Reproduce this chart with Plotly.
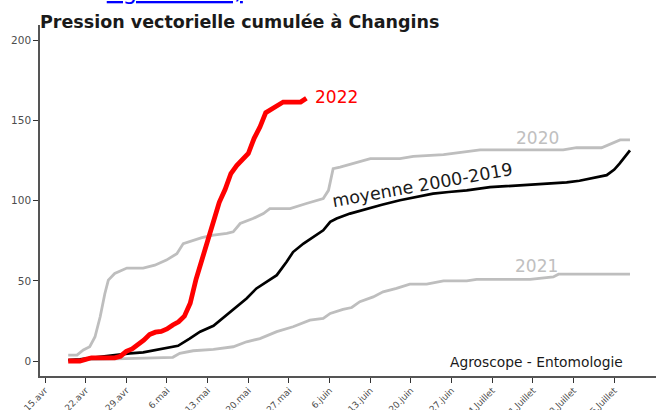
import plotly.graph_objects as go

# ---- data (days since 15 April) ----
tick_days = [0, 7, 14, 21, 28, 35, 42, 49, 56, 63, 70, 77, 84, 91, 98]
tick_labels = ["15.avr", "22.avr", "29.avr", "6.mai", "13.mai", "20.mai", "27.mai",
               "6.juin", "13.juin", "20.juin", "27.juin", "4.Juillet", "11.Juillet",
               "18.Juillet", "25.Juillet"]

days_2022 = [4, 5, 6, 7, 8, 9, 10, 11, 12, 13, 14, 15, 16, 17, 18, 19, 20, 21, 22, 23, 24,
             25, 26, 27, 28, 29, 30, 31, 32, 33, 34, 35, 36, 37, 38, 39, 40, 41, 42, 43, 44, 45]
vals_2022 = [0, 0, 0, 1, 2, 2, 2, 2, 2, 3, 6, 7.5, 10, 13, 16.5, 18, 18.5, 20, 22.5, 24.5, 28,
             36, 51, 63, 76, 89, 99, 107, 117, 122, 125.5, 129.5, 139, 146, 155, 157.5, 160,
             161.6, 161.6, 161.6, 161.6, 164]

days_mean = [4, 6, 8, 9.5, 12, 14.6, 16.9, 19.8, 22.9, 24.9, 26.7, 29, 31.3, 33, 34.7, 36.4,
             38.2, 39.9, 41.6, 42.7, 44.5, 46.2, 47.9, 49.1, 50.2, 52.5, 55.4, 58, 61.1, 63.5,
             66.8, 69.5, 72.6, 76.6, 80, 84, 87, 89.8, 92, 93.8, 95.5, 96.7, 98, 98.9, 100.7]
vals_mean = [0.5, 1, 2, 2.7, 3.7, 4.8, 5.4, 7.5, 9.5, 14, 18.3, 22, 28.7, 33.8, 39, 45.3,
             49.4, 53.6, 61.9, 68, 73.3, 77.4, 81.6, 86.8, 88.9, 92, 95.1, 97.5, 100.3, 102,
             104.5, 105.5, 106.5, 108.5, 109.3, 110.3, 111, 111.5, 112.5, 113.8, 115, 116,
             119.5, 123.2, 131.5]

days_2020 = [4, 5.5, 6.6, 7.7, 8.6, 9.5, 10.3, 10.9, 12, 14.1, 16.9, 18.9, 20.9, 22.7, 23.8,
             25.5, 27, 29, 31.3, 32.4, 33.6, 35.8, 37.6, 38.7, 42.2, 45, 47.9, 48.8, 49.6,
             50.8, 52.5, 56, 61.1, 63.4, 68.6, 74.9, 81.2, 89.2, 91.5, 95.8, 99, 100.7]
vals_2020 = [3.7, 3.7, 6.9, 8.9, 15, 27.6, 42, 50.5, 54.6, 58, 58, 59.8, 63, 67, 73.3,
             75.4, 77, 78.5, 79.6, 80.6, 85.8, 88.9, 92, 95.1, 95.1, 98.3, 101.4, 106.5, 120,
             121, 122.7, 126.3, 126.3, 127.7, 128.8, 131.8, 131.8, 131.8, 133.1, 133.1, 138, 138]

days_2021 = [4, 16.9, 22, 23.2, 25.5, 29, 32.4, 34.7, 37, 39.9, 42.7, 45.6, 47.9, 49.1, 51.3,
             52.8, 54.2, 56.5, 58.2, 60.5, 62.8, 65.7, 68.6, 72.6, 74.3, 83.5, 87.5, 88.4, 100.7]
vals_2021 = [0.6, 1.7, 2.3, 4.8, 6.4, 7.3, 8.9, 12, 14, 18.3, 21.4, 25.5, 26.6, 29.7, 32.2,
             33.4, 37, 40, 43.2, 45.3, 48, 48, 50, 50, 51, 51, 52.5, 54.2, 54.2]

GREY = "#bebebe"
FONT = "DejaVu Sans"

fig = go.Figure()
fig.add_trace(go.Scatter(x=days_2021, y=vals_2021, mode="lines",
                         line=dict(color=GREY, width=2.8), name="2021"))
fig.add_trace(go.Scatter(x=days_2020, y=vals_2020, mode="lines",
                         line=dict(color=GREY, width=2.8), name="2020"))
fig.add_trace(go.Scatter(x=days_mean, y=vals_mean, mode="lines",
                         line=dict(color="#000000", width=2.7), name="moyenne 2000-2019"))
fig.add_trace(go.Scatter(x=days_2022, y=vals_2022, mode="lines",
                         line=dict(color="#ff0000", width=4.8), name="2022"))

annotations = [
    dict(x=46.1, y=164.5, xref="x", yref="y", text="2022", showarrow=False,
         xanchor="left", yanchor="middle", font=dict(family=FONT, size=17, color="#ff0000")),
    dict(x=84.8, y=139.3, xref="x", yref="y", text="2020", showarrow=False,
         xanchor="center", yanchor="middle", font=dict(family=FONT, size=17, color="#c0c0c0")),
    dict(x=84.6, y=59.5, xref="x", yref="y", text="2021", showarrow=False,
         xanchor="center", yanchor="middle", font=dict(family=FONT, size=17, color="#c0c0c0")),
    dict(x=65, y=109.7, xref="x", yref="y", text="moyenne 2000-2019", showarrow=False,
         textangle=-10.2, xanchor="center", yanchor="middle",
         font=dict(family=FONT, size=17.5, color="#1a1a1a")),
    dict(x=0.9497, y=0.0413, xref="paper", yref="paper", text="Agroscope - Entomologie",
         showarrow=False, xanchor="right", yanchor="middle",
         font=dict(family=FONT, size=13.8, color="#1a1a1a")),
    dict(x=0.3328, y=1.054, xref="paper", yref="paper",
         text="(voir sous <span style='color:#0000ff;text-decoration:underline'>Agrometeo)</span>",
         showarrow=False, xanchor="right", yanchor="bottom",
         font=dict(family=FONT, size=23, color="#000000")),
]

fig.update_layout(
    width=656, height=410,
    margin=dict(l=40, r=0, t=25, b=34, autoexpand=False),
    paper_bgcolor="white", plot_bgcolor="white",
    showlegend=False,
    title=dict(text="<b>Pression vectorielle cumulée à Changins</b>",
               x=0, xref="paper", xanchor="left",
               y=1 - 21.5 / 410, yref="container", yanchor="middle",
               font=dict(family=FONT, size=17.5, color="#1a1a1a")),
    annotations=annotations,
    font=dict(family=FONT),
)
fig.update_xaxes(range=[-0.86, 105.18], tickvals=tick_days, ticktext=tick_labels,
                 tickangle=-45, ticks="outside", ticklen=5, tickcolor="#333333",
                 tickfont=dict(family=FONT, size=9, color="#4d4d4d"),
                 ticklabelstandoff=-1,
                 showline=True, linecolor="#555555", linewidth=1.5,
                 showgrid=False, zeroline=False, automargin=False)
fig.update_yaxes(range=[-9.35, 209.7], tickvals=[0, 50, 100, 150, 200],
                 ticks="outside", ticklen=5, tickcolor="#333333",
                 tickfont=dict(family=FONT, size=10.5, color="#4d4d4d"),
                 showline=True, linecolor="#555555", linewidth=1.5,
                 showgrid=False, zeroline=False, automargin=False)

fig.write_html("out.html", config={"displayModeBar": False},
               post_script="document.body.style.margin='0';document.body.style.overflow='hidden';")
